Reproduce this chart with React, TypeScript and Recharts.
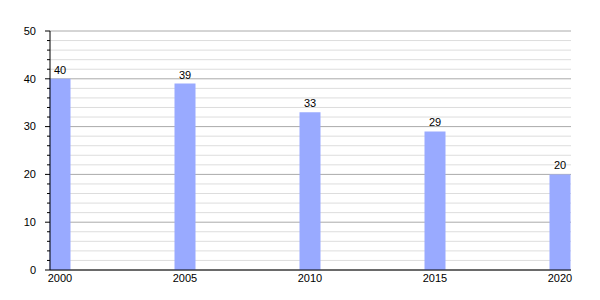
import React from "react";
import { BarChart, Bar, XAxis, YAxis, CartesianGrid, LabelList } from "recharts";

const years = [2000, 2005, 2010, 2015, 2020];
const values = [40, 39, 33, 29, 20];
const majorTicks = [0, 10, 20, 30, 40, 50];
const minorTicks = [2, 4, 6, 8, 12, 14, 16, 18, 22, 24, 26, 28, 32, 34, 36, 38, 42, 44, 46, 48];
const allTicks = Array.from({ length: 26 }, (_, i) => i * 2);

const data = years.map((y, i) => ({ year: y, value: values[i] }));

const FONT = "'Liberation Sans', Arial, sans-serif";

const YTick = (props: any) => {
  const { x, y, payload } = props;
  const v = payload.value;
  const major = v % 10 === 0;
  return (
    <g>
      <line x1={x - (major ? 5 : 3)} x2={x} y1={y} y2={y} stroke="#000" strokeWidth={1} />
      {major && (
        <text x={x - 14} y={y} dy="0.35em" textAnchor="end" fontSize={11} fontFamily={FONT} fill="#000">
          {v}
        </text>
      )}
    </g>
  );
};

export default function App() {
  return (
    <BarChart width={600} height={300} data={data} margin={{ top: 23, right: 37, left: 0, bottom: 18 }}>
      <CartesianGrid vertical={false} horizontalValues={minorTicks} stroke="#dddddd" />
      <CartesianGrid vertical={false} horizontalValues={majorTicks} stroke="#aaaaaa" />
      <XAxis
        dataKey="year"
        type="number"
        domain={[2000, 2020]}
        ticks={years}
        padding={{ left: 10, right: 11 }}
        tickLine={false}
        tickSize={2}
        tickMargin={2}
        height={20}
        axisLine={{ stroke: "#000" }}
        tick={{ fontSize: 11, fontFamily: FONT, fill: "#000" }}
      />
      <YAxis
        domain={[0, 50]}
        ticks={allTicks}
        interval={0}
        width={42}
        tickLine={false}
        tickSize={0}
        tickMargin={0}
        axisLine={{ stroke: "#000" }}
        tick={<YTick />}
      />
      <Bar dataKey="value" fill="#99aaff" barSize={21} isAnimationActive={false}>
        <LabelList dataKey="value" position="top" offset={5} fontSize={11} fontFamily={FONT} fill="#000" />
      </Bar>
    </BarChart>
  );
}
